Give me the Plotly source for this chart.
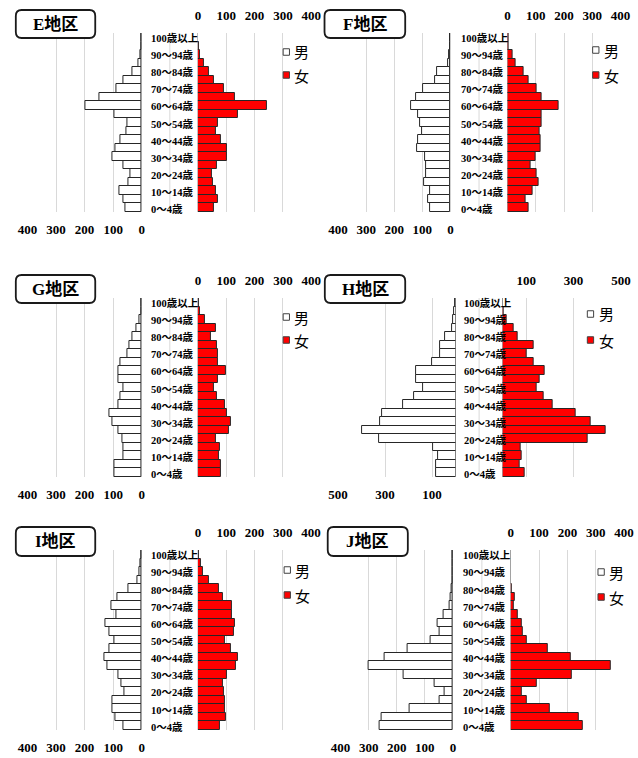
import plotly.graph_objects as go

# ---------------- data (bottom -> top) ----------------
ages = ["0～4歳", "5～9歳", "10～14歳", "15～19歳", "20～24歳", "25～29歳", "30～34歳",
        "35～39歳", "40～44歳", "45～49歳", "50～54歳", "55～59歳", "60～64歳", "65～69歳",
        "70～74歳", "75～79歳", "80～84歳", "85～89歳", "90～94歳", "95～99歳", "100歳以上"]

districts = ["E地区", "F地区", "G地区", "H地区", "I地区", "J地区"]
legend_names = ["男", "女"]

E_male = [57, 63, 79, 46, 40, 63, 101, 91, 74, 53, 49, 94, 198, 148, 87, 63, 34, 12, 6, 1, 0]
E_female = [56, 70, 63, 53, 50, 67, 101, 101, 81, 63, 70, 142, 242, 131, 91, 57, 39, 22, 7, 3, 1]

F_male = [71, 78, 71, 94, 85, 87, 91, 118, 115, 102, 108, 115, 140, 121, 98, 53, 46, 9, 6, 3, 1]
F_female = [75, 64, 87, 110, 101, 81, 98, 117, 117, 113, 122, 122, 181, 122, 101, 74, 56, 30, 16, 3, 2]

G_male = [96, 96, 65, 65, 66, 82, 104, 113, 83, 74, 63, 82, 83, 76, 51, 43, 33, 18, 8, 2, 0]
G_female = [80, 80, 75, 77, 63, 109, 118, 102, 95, 67, 58, 71, 98, 69, 70, 66, 47, 63, 23, 7, 2]

H_male = [82, 81, 73, 96, 324, 400, 322, 312, 224, 177, 137, 169, 169, 100, 65, 65, 43, 15, 11, 8, 1]
H_female = [92, 72, 81, 77, 359, 437, 373, 307, 210, 172, 143, 158, 179, 130, 101, 131, 63, 46, 15, 5, 1]

I_male = [65, 91, 101, 102, 61, 70, 82, 119, 131, 113, 97, 113, 128, 87, 107, 84, 46, 14, 8, 5, 0]
I_female = [77, 98, 94, 97, 91, 87, 101, 136, 143, 118, 95, 126, 130, 121, 121, 87, 74, 40, 18, 9, 2]

J_male = [261, 254, 153, 47, 29, 66, 175, 302, 244, 161, 79, 49, 54, 32, 11, 10, 6, 2, 1, 0, 0]
J_female = [254, 239, 137, 55, 40, 91, 216, 353, 213, 132, 55, 43, 40, 24, 11, 14, 3, 1, 0, 0, 0]

ticks_std = [0, 100, 200, 300, 400]
ticks_H = [100, 300, 500]

males = [E_male, F_male, G_male, H_male, I_male, J_male]
females = [E_female, F_female, G_female, H_female, I_female, J_female]

# ---------------- layout (pixels) ----------------
W, H = 638, 758
def X(p): return p / W
def Y(p): return 1 - p / H

panels = [
    dict(m=(18, 136), f=(194, 311), yd=(33, 212), mx=400, fx=400, tk=ticks_std, lab=144,
         box=(6, 88, 10, 38), sq=282, ly=(52, 75)),
    dict(m=(338.7, 454.7), f=(513.7, 630.3), yd=(33, 212), mx=400, fx=400, tk=ticks_std, lab=463.5,
         box=(324.7, 408, 10, 38), sq=601.5, ly=(50, 75)),
    dict(m=(18, 136), f=(194, 311), yd=(298, 477), mx=400, fx=400, tk=ticks_std, lab=144,
         box=(6, 88, 275, 303), sq=282, ly=(317, 340)),
    dict(m=(338.7, 460), f=(508.6, 630.7), yd=(298, 477), mx=500, fx=500, tk=ticks_H, lab=467,
         box=(325, 408, 275, 303), sq=596, ly=(314, 340)),
    dict(m=(18, 136), f=(194, 310.7), yd=(550, 730), mx=400, fx=400, tk=ticks_std, lab=144,
         box=(6, 88, 527, 556), sq=283, ly=(570, 595)),
    dict(m=(341.3, 457.3), f=(517, 634), yd=(550, 730), mx=400, fx=400, tk=ticks_std, lab=466,
         box=(328, 410.7, 527, 556), sq=607, ly=(572, 597)),
]

SERIF = "Liberation Serif, Noto Sans CJK JP"
GRID = "#d9d9d9"
EDGE = "#262626"

fig = go.Figure()
shapes, annotations = [], []
lay = {}

def rounded(x0, x1, y0, y1, r):
    return (f"M {X(x0+r)},{Y(y0)} L {X(x1-r)},{Y(y0)} Q {X(x1)},{Y(y0)} {X(x1)},{Y(y0+r)} "
            f"L {X(x1)},{Y(y1-r)} Q {X(x1)},{Y(y1)} {X(x1-r)},{Y(y1)} "
            f"L {X(x0+r)},{Y(y1)} Q {X(x0)},{Y(y1)} {X(x0)},{Y(y1-r)} "
            f"L {X(x0)},{Y(y0+r)} Q {X(x0)},{Y(y0)} {X(x0+r)},{Y(y0)} Z")

for k, p in enumerate(panels):
    yn = "y" if k == 0 else f"y{k+1}"
    ykey = "yaxis" if k == 0 else f"yaxis{k+1}"
    xm_i, xf_i = 2 * k + 1, 2 * k + 2
    xm = "x" if xm_i == 1 else f"x{xm_i}"
    xf = f"x{xf_i}"
    xm_key = "xaxis" if xm_i == 1 else f"xaxis{xm_i}"
    xf_key = f"xaxis{xf_i}"

    fig.add_trace(go.Bar(x=males[k], y=ages, orientation="h", xaxis=xm, yaxis=yn,
                         name=legend_names[0], showlegend=False,
                         marker=dict(color="white", line=dict(color=EDGE, width=1))))
    fig.add_trace(go.Bar(x=females[k], y=ages, orientation="h", xaxis=xf, yaxis=yn,
                         name=legend_names[1], showlegend=False,
                         marker=dict(color="#ff0000", line=dict(color=EDGE, width=1))))

    ydom = [Y(p["yd"][1]), Y(p["yd"][0])]
    lay[ykey] = dict(domain=ydom, anchor=xm, type="category", categoryorder="array",
                     categoryarray=ages, range=[-0.5, 20.5], showticklabels=False,
                     showgrid=False, zeroline=False, showline=False, fixedrange=True)
    tickfont = dict(family=SERIF, size=13, color="black", weight="bold")
    lay[xm_key] = dict(domain=[X(p["m"][0]), X(p["m"][1])], anchor=yn, side="bottom",
                       range=[p["mx"], 0], tickvals=p["tk"], ticktext=[str(t) for t in p["tk"]],
                       showgrid=True, gridcolor=GRID, gridwidth=1, zeroline=True,
                       zerolinecolor=GRID, zerolinewidth=1, showline=False, ticks="",
                       tickfont=tickfont, ticklabelstandoff=8, fixedrange=True)
    lay[xf_key] = dict(domain=[X(p["f"][0]), X(p["f"][1])], anchor=yn, side="top",
                       range=[0, p["fx"]], tickvals=p["tk"], ticktext=[str(t) for t in p["tk"]],
                       showgrid=True, gridcolor=GRID, gridwidth=1, zeroline=True,
                       zerolinecolor=GRID, zerolinewidth=1, showline=False, ticks="",
                       tickfont=tickfont, ticklabelstandoff=9, fixedrange=True)

    # middle gridline of the label area
    mid = (p["m"][1] + p["f"][0]) / 2
    shapes.append(dict(type="line", xref="paper", yref="paper", x0=X(mid), x1=X(mid),
                       y0=ydom[0], y1=ydom[1], line=dict(color=GRID, width=1), layer="below"))

    # age labels
    for i in range(0, len(ages), 2):
        annotations.append(dict(text=ages[i], xref="paper", x=X(p["lab"]), xanchor="left",
                                yref=yn, y=ages[i], yanchor="middle", yshift=-1, showarrow=False,
                                font=dict(family=SERIF, size=10.5, color="black", weight="bold")))

    # title box
    bx0, bx1, by0, by1 = p["box"]
    shapes.append(dict(type="path", xref="paper", yref="paper", path=rounded(bx0, bx1, by0, by1, 6),
                       line=dict(color="#1a1a1a", width=1.8), fillcolor="white"))
    annotations.append(dict(text=districts[k], xref="paper", yref="paper", x=X((bx0 + bx1) / 2),
                            y=Y((by0 + by1) / 2), xanchor="center", yanchor="middle", showarrow=False,
                            font=dict(family=SERIF, size=17, color="black", weight="bold")))

    # legend
    for j, (col, ly) in enumerate(zip(["white", "#ff0000"], p["ly"])):
        s = 6.5
        shapes.append(dict(type="rect", xref="paper", yref="paper", x0=X(p["sq"]), x1=X(p["sq"] + s),
                           y0=Y(ly + s / 2), y1=Y(ly - s / 2), fillcolor=col,
                           line=dict(color="#404040", width=1)))
        annotations.append(dict(text=legend_names[j], xref="paper", yref="paper", x=X(p["sq"] + s + 3),
                                y=Y(ly), xanchor="left", yanchor="middle", showarrow=False,
                                font=dict(family="Noto Sans CJK JP", size=15, color="black")))

fig.update_layout(width=W, height=H, margin=dict(l=0, r=0, t=0, b=0), paper_bgcolor="white",
                  plot_bgcolor="rgba(0,0,0,0)", bargap=0, barmode="overlay", showlegend=False,
                  shapes=shapes, annotations=annotations, **lay)

fig.write_html("out.html")
